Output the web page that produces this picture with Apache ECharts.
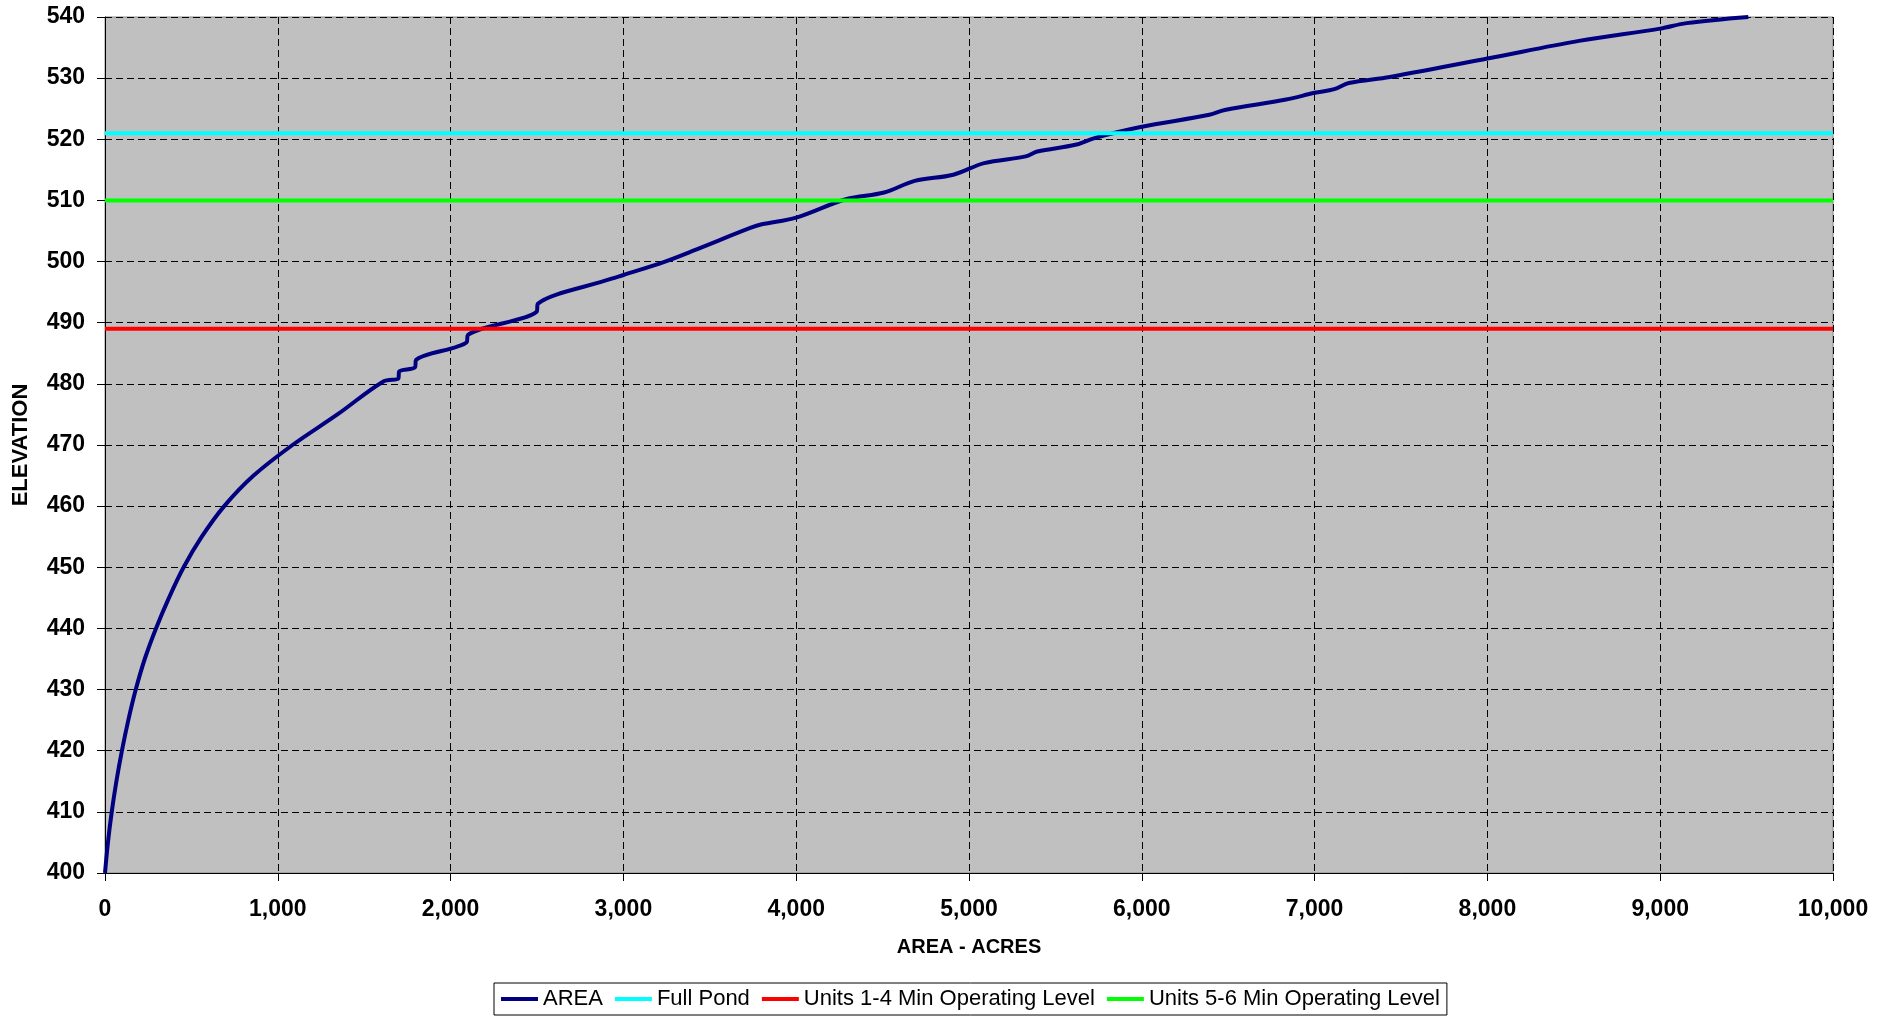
<!DOCTYPE html>
<html>
<head>
<meta charset="utf-8">
<title>Elevation - Area</title>
<script src="https://cdn.jsdelivr.net/npm/echarts@6/dist/echarts.min.js"></script>
<style>
    html, body { margin: 0; padding: 0; background: #fff; }
    #chart { width: 1895px; height: 1016px; }
</style>
</head>
<body>
<div id="chart"></div>
<script>
// area (acres) and elevation
const areaAcres = [0, 17, 39, 66, 98, 135, 178, 230, 295, 370, 455, 560, 690, 860, 1085, 1345, 1611, 1698, 1702,
    1794, 1800, 2093, 2100, 2498, 2505, 2932, 3000, 3241, 3424, 3734, 3801, 4000, 4288, 4509, 4686, 4909, 5088,
    5328, 5395, 5616, 5727, 5993, 6391, 6480, 6835, 7000, 7114, 7198, 7436, 8000, 8530, 9000, 9153, 9510];
const elevation = [400, 405, 410, 415, 420, 425, 430, 435, 440, 445, 450, 455, 460, 465, 470, 475, 480.4, 480.9, 482.0,
    482.7, 483.9, 486.8, 488.0, 491.8, 493.1, 497.2, 497.8, 500, 502, 505.5, 506.1, 507.2, 510.2, 511.3, 513.2, 514.2, 516.1,
    517.2, 518.0, 519.1, 520.2, 522.0, 524.0, 524.8, 526.5, 527.6, 528.2, 529.2, 530.2, 533.2, 536.1, 538.1, 539.0, 540];

// reference levels
const fullPond = 521;
const units14Min = 489;
const units56Min = 510;

const xRange = [0, 10000];
const levelNames = ['AREA', 'Full Pond', 'Units 1-4 Min Operating Level', 'Units 5-6 Min Operating Level'];

const FONT = "'Liberation Sans', Arial, sans-serif";

const chart = echarts.init(document.getElementById('chart'));

// flat line across the whole x range
const levelLine = (name, value, color) => ({
    name: name,
    type: 'line',
    data: xRange.map(x => [x, value]),
    symbol: 'none',
    lineStyle: { color: color, width: 4 },
    itemStyle: { color: color },
});

const option = {
    animation: false,
    grid: {
        left: 105,
        right: 62,
        top: 17,
        bottom: 143,
        outerBoundsMode: 'none',
        containLabel: false,
        show: true,
        backgroundColor: '#c0c0c0',
        borderColor: '#888',
        borderWidth: 1,
    },
    legend: {
        data: levelNames,
        bottom: 1,
        left: 494,
        icon: 'rect',
        itemWidth: 37,
        itemHeight: 4,
        itemGap: 12,
        padding: [5, 7],
        borderColor: '#000',
        borderWidth: 1,
        backgroundColor: '#fff',
        textStyle: { fontFamily: FONT, fontSize: 22, color: '#000' },
    },
    xAxis: {
        type: 'value',
        min: 0,
        max: 10000,
        interval: 1000,
        name: 'AREA - ACRES',
        nameLocation: 'middle',
        nameGap: 64,
        nameTextStyle: { fontFamily: FONT, fontSize: 20, fontWeight: 'bold', color: '#000' },
        axisLine: { show: true, lineStyle: { color: '#000', width: 1 } },
        axisTick: { show: true, length: 8, lineStyle: { color: '#000' } },
        axisLabel: {
            margin: 25,
            fontFamily: FONT,
            fontSize: 23,
            fontWeight: 'bold',
            color: '#000',
            formatter: v => v.toLocaleString('en-US'),
        },
        splitLine: { show: true, lineStyle: { color: '#000', type: [7, 4], width: 1 } },
    },
    yAxis: {
        type: 'value',
        min: 400,
        max: 540,
        interval: 10,
        name: 'ELEVATION',
        nameLocation: 'middle',
        nameGap: 73,
        nameRotate: 90,
        nameTextStyle: { fontFamily: FONT, fontSize: 22, fontWeight: 'bold', color: '#000' },
        axisLine: { show: true, lineStyle: { color: '#000', width: 1 } },
        axisTick: { show: true, length: 8, lineStyle: { color: '#000' } },
        axisLabel: {
            margin: 20,
            fontFamily: FONT,
            fontSize: 23,
            fontWeight: 'bold',
            color: '#000',
        },
        splitLine: { show: true, lineStyle: { color: '#000', type: [7, 4], width: 1 } },
    },
    series: [
        {
            name: 'AREA',
            type: 'line',
            data: areaAcres.map((a, i) => [a, elevation[i]]),
            symbol: 'none',
            smooth: 0.35,
            lineStyle: { color: '#000080', width: 4 },
            itemStyle: { color: '#000080' },
        },
        levelLine('Full Pond', fullPond, '#00ffff'),
        levelLine('Units 1-4 Min Operating Level', units14Min, '#ff0000'),
        levelLine('Units 5-6 Min Operating Level', units56Min, '#00ff00'),
    ],
};

chart.setOption(option);
</script>
</body>
</html>
